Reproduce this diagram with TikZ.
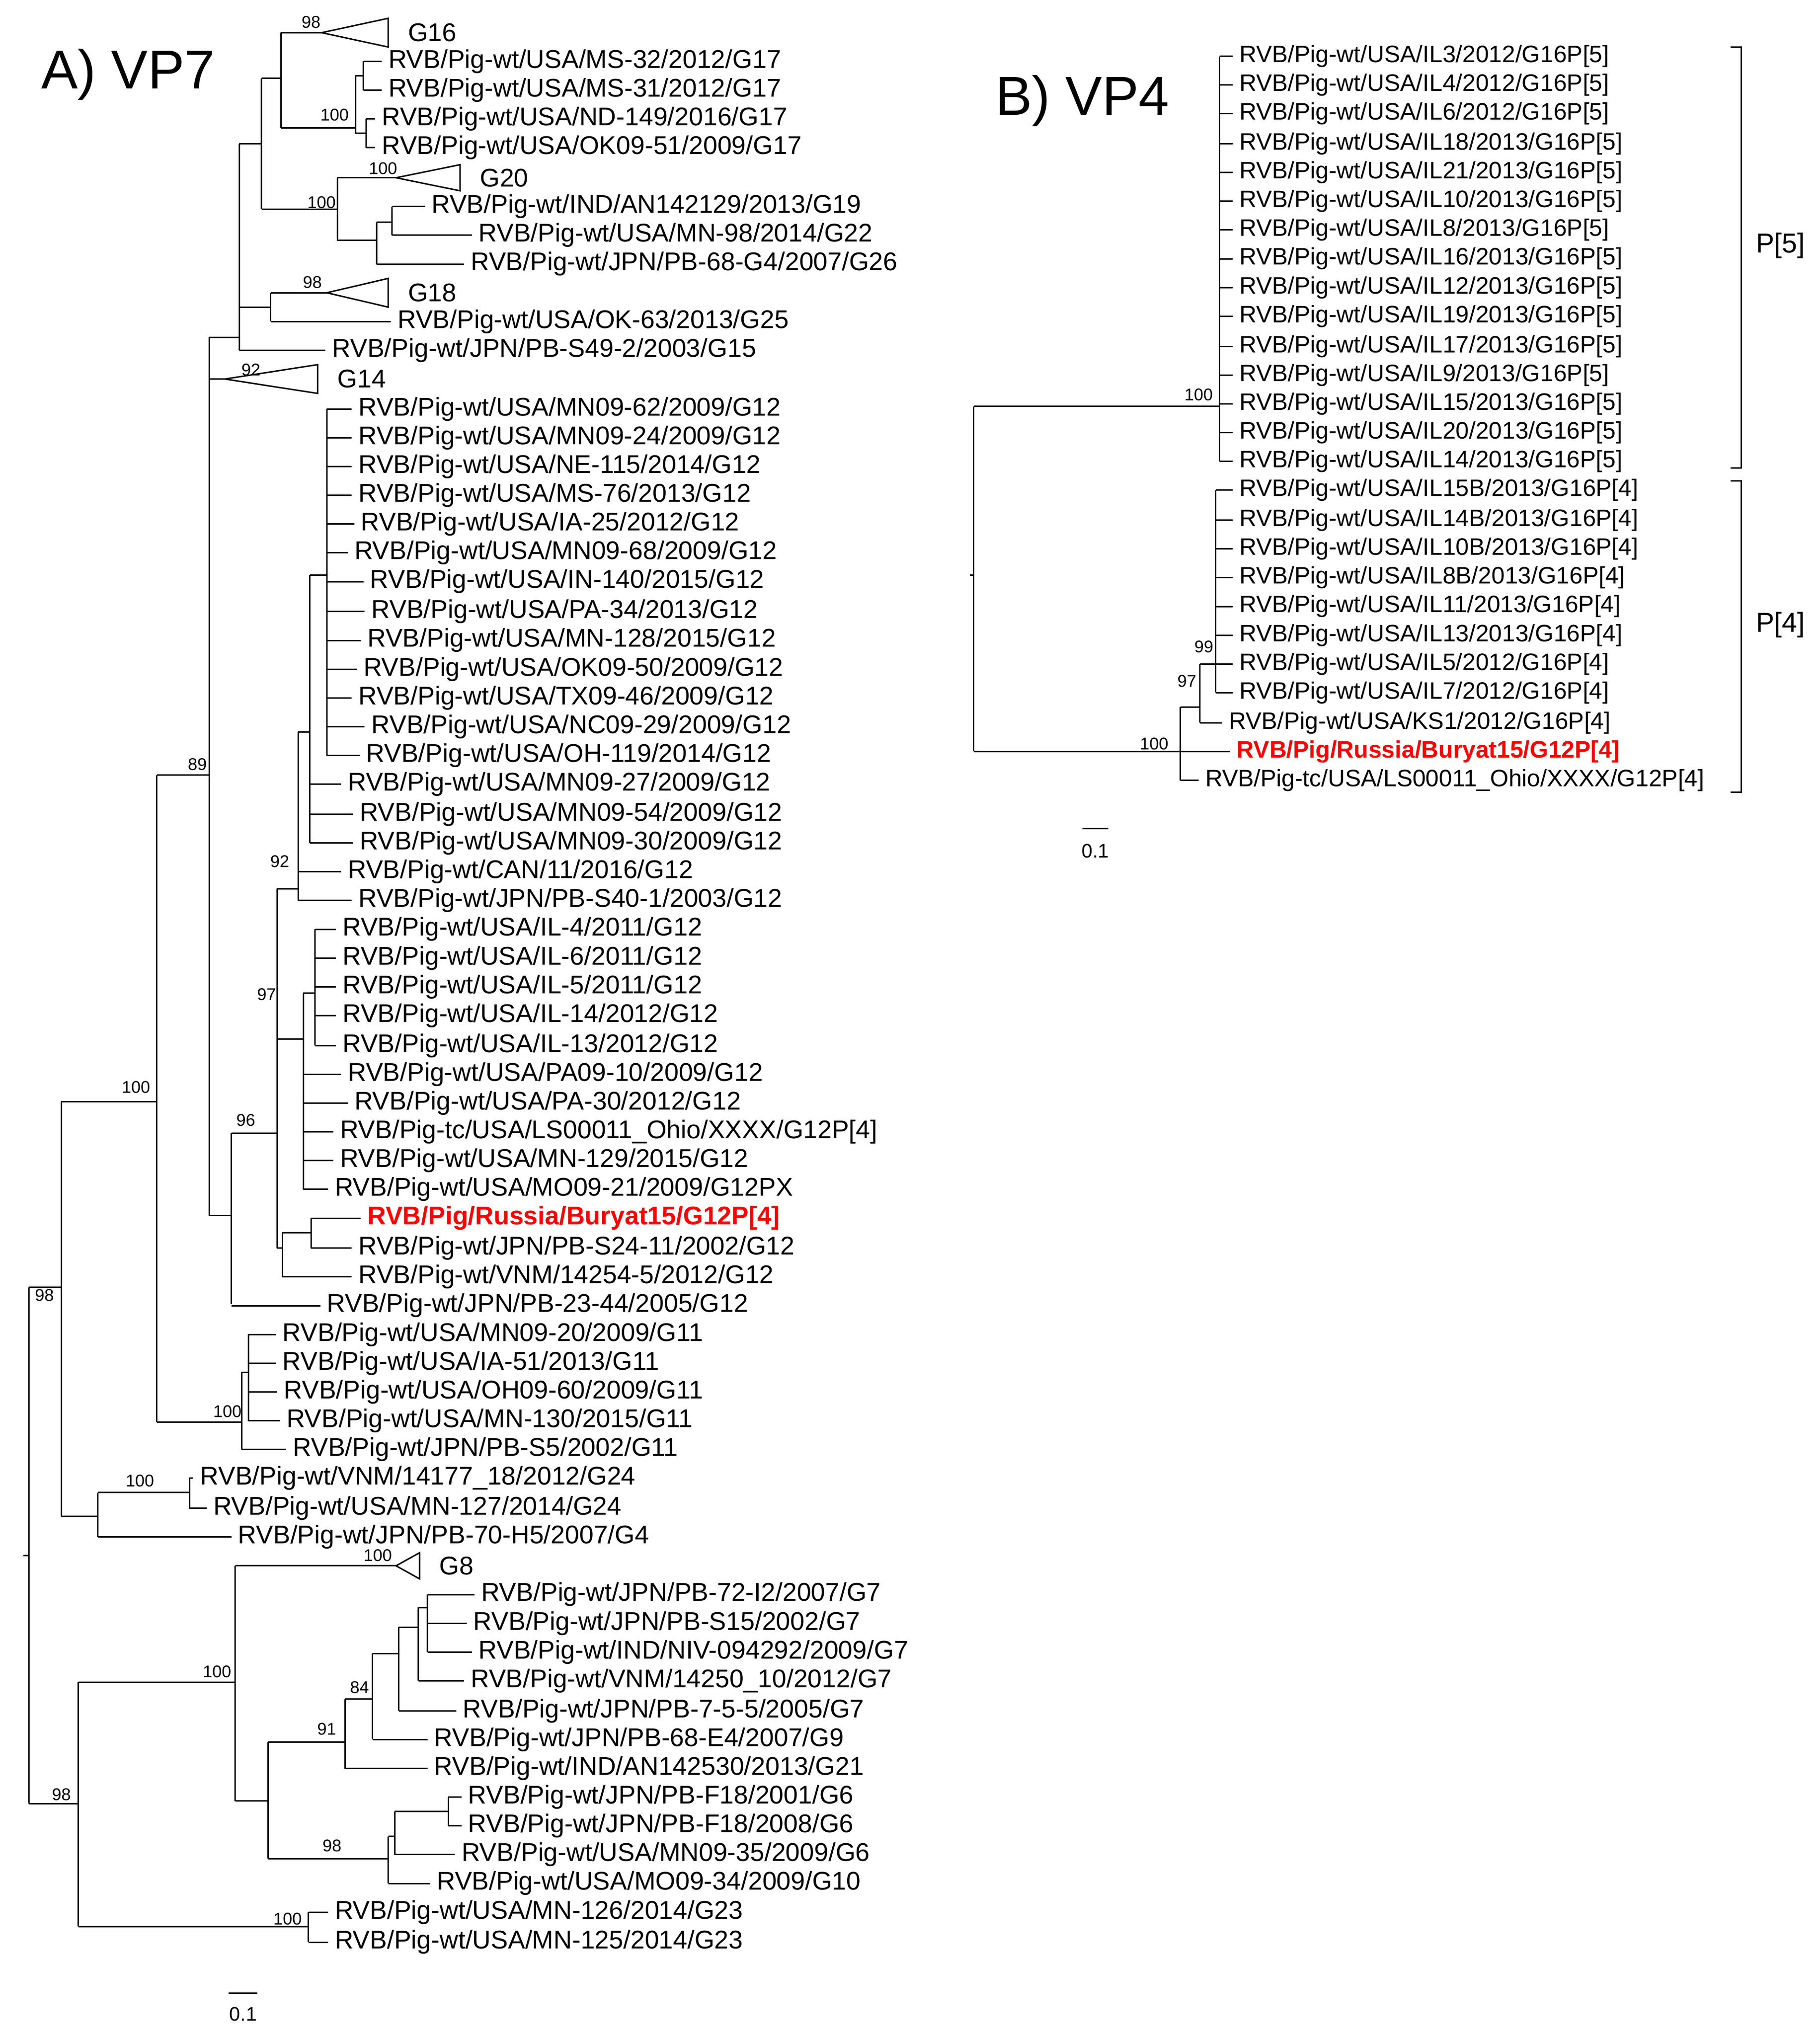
\documentclass[tikz,border=0pt]{standalone}
\usepackage{fontspec}
\setmainfont{Liberation Sans}
\newcommand\vl[3]{\draw[br] (#1,#2) -- (#1,#3);}
\newcommand\hl[3]{\draw[br] (#1,#3) -- (#2,#3);}
\newcommand\tp[4]{\draw[br] (#1,#2) -- (#3,#2); \node[lab] at (#3+5,#2) {#4};}
\newcommand\bsl[3]{\node[bs] at (#1,#2) {#3};}
\newcommand\tri[5]{\draw[br] (#1,#2) -- (#3,#2-#4) -- (#3,#2+#4) -- cycle; \node[lab] at (#3+15,#2) {#5};}
\begin{document}
\begin{tikzpicture}[x=1pt,y=-1pt,
 br/.style={line width=1.1pt},
 lab/.style={anchor=west,inner sep=0pt,font=\fontsize{19.6}{20}\selectfont},
 bs/.style={inner sep=0pt,font=\fontsize{13}{14}\selectfont},
 red/.style={text=red,font=\fontsize{19.6}{20}\selectfont\bfseries}]
\useasboundingbox (0,0) rectangle (1392,1557);
\node[anchor=west,font=\fontsize{42}{44}\selectfont] at (28,57) {A) VP7};
\node[anchor=west,font=\fontsize{42}{44}\selectfont] at (758,77) {B) VP4};
% ---------- VP7 ----------
\vl{22}{985}{1380} \hl{18}{22}{1190}
\hl{22}{47}{985} \bsl{34}{991}{98}
\vl{47}{843}{1160}
\hl{47}{120}{843} \bsl{104}{832}{100}
\vl{120}{593}{1088}
\hl{120}{160}{593} \bsl{151}{585}{89}
\vl{160}{258}{930}
\hl{160}{183}{258}
\hl{160}{172}{290} \tri{172}{290}{243}{11}{G14} \bsl{192}{283}{92}
\vl{183}{110}{268}
\hl{183}{200}{110}
\tp{183}{268}{249}{RVB/Pig-wt/JPN/PB-S49-2/2003/G15}
\hl{183}{207}{235} \vl{207}{224}{246}
\hl{207}{250}{224} \tri{250}{224}{297}{11}{G18} \bsl{239}{216}{98}
\tp{207}{246}{299}{RVB/Pig-wt/USA/OK-63/2013/G25}
\vl{200}{60}{160}
\hl{200}{215}{60} \vl{215}{25}{98}
\hl{215}{246}{25} \tri{246}{25}{297}{11}{G16} \bsl{238}{17}{98}
\hl{215}{272}{98} \bsl{256}{88}{100} \vl{272}{58}{102}
\hl{272}{278}{58} \vl{278}{47}{69}
\tp{278}{47}{292}{RVB/Pig-wt/USA/MS-32/2012/G17}
\tp{278}{69}{292}{RVB/Pig-wt/USA/MS-31/2012/G17}
\hl{272}{280}{102} \vl{280}{91}{113}
\tp{280}{91}{287}{RVB/Pig-wt/USA/ND-149/2016/G17}
\tp{280}{113}{287}{RVB/Pig-wt/USA/OK09-51/2009/G17}
\hl{200}{258}{160} \bsl{246}{155}{100} \vl{258}{136}{184}
\hl{258}{303}{136} \tri{303}{136}{352}{10}{G20} \bsl{293}{129}{100}
\hl{258}{288}{184} \vl{288}{170}{202}
\hl{288}{300}{170} \vl{300}{158}{180}
\tp{300}{158}{325}{RVB/Pig-wt/IND/AN142129/2013/G19}
\tp{300}{180}{361}{RVB/Pig-wt/USA/MN-98/2014/G22}
\tp{288}{202}{355}{RVB/Pig-wt/JPN/PB-68-G4/2007/G26}
% G12
\hl{160}{177}{930} \vl{177}{867}{998}
\tp{177}{999}{245}{RVB/Pig-wt/JPN/PB-23-44/2005/G12}
\hl{177}{212}{867} \bsl{188}{857}{96}
\vl{212}{680}{955} \bsl{204}{761}{97}
\hl{212}{228}{680} \bsl{214}{659}{92} \vl{228}{560}{689}
\tp{228}{667}{261}{RVB/Pig-wt/CAN/11/2016/G12}
\tp{228}{689}{269}{RVB/Pig-wt/JPN/PB-S40-1/2003/G12}
\hl{228}{237}{560} \vl{237}{440}{645}
\tp{237}{600}{261}{RVB/Pig-wt/USA/MN09-27/2009/G12}
\tp{237}{623}{270}{RVB/Pig-wt/USA/MN09-54/2009/G12}
\tp{237}{645}{270}{RVB/Pig-wt/USA/MN09-30/2009/G12}
\hl{237}{250}{440} \vl{250}{313}{578}
\tp{250}{313}{269}{RVB/Pig-wt/USA/MN09-62/2009/G12}
\tp{250}{335}{269}{RVB/Pig-wt/USA/MN09-24/2009/G12}
\tp{250}{357}{269}{RVB/Pig-wt/USA/NE-115/2014/G12}
\tp{250}{379}{269}{RVB/Pig-wt/USA/MS-76/2013/G12}
\tp{250}{401}{271}{RVB/Pig-wt/USA/IA-25/2012/G12}
\tp{250}{423}{266}{RVB/Pig-wt/USA/MN09-68/2009/G12}
\tp{250}{445}{278}{RVB/Pig-wt/USA/IN-140/2015/G12}
\tp{250}{468}{279}{RVB/Pig-wt/USA/PA-34/2013/G12}
\tp{250}{490}{276}{RVB/Pig-wt/USA/MN-128/2015/G12}
\tp{250}{512}{273}{RVB/Pig-wt/USA/OK09-50/2009/G12}
\tp{250}{534}{269}{RVB/Pig-wt/USA/TX09-46/2009/G12}
\tp{250}{556}{279}{RVB/Pig-wt/USA/NC09-29/2009/G12}
\tp{250}{578}{275}{RVB/Pig-wt/USA/OH-119/2014/G12}
\hl{212}{232}{795} \vl{232}{760}{910}
\hl{232}{241}{760} \vl{241}{711}{800}
\tp{241}{711}{257}{RVB/Pig-wt/USA/IL-4/2011/G12}
\tp{241}{733}{257}{RVB/Pig-wt/USA/IL-6/2011/G12}
\tp{241}{755}{257}{RVB/Pig-wt/USA/IL-5/2011/G12}
\tp{241}{777}{257}{RVB/Pig-wt/USA/IL-14/2012/G12}
\tp{241}{800}{257}{RVB/Pig-wt/USA/IL-13/2012/G12}
\tp{232}{822}{261}{RVB/Pig-wt/USA/PA09-10/2009/G12}
\tp{232}{844}{266}{RVB/Pig-wt/USA/PA-30/2012/G12}
\tp{232}{866}{255}{RVB/Pig-tc/USA/LS00011\_Ohio/XXXX/G12P[4]}
\tp{232}{888}{255}{RVB/Pig-wt/USA/MN-129/2015/G12}
\tp{232}{910}{251}{RVB/Pig-wt/USA/MO09-21/2009/G12PX}
\hl{212}{216}{955} \vl{216}{943}{977}
\hl{216}{238}{943} \vl{238}{932}{955}
\draw[br] (238,932) -- (276,932); \node[lab,red] at (281,932) {RVB/Pig/Russia/Buryat15/G12P[4]};
\tp{238}{955}{269}{RVB/Pig-wt/JPN/PB-S24-11/2002/G12}
\tp{216}{977}{269}{RVB/Pig-wt/VNM/14254-5/2012/G12}
% G11
\hl{120}{185}{1088} \vl{185}{1050}{1109}
\tp{185}{1109}{219}{RVB/Pig-wt/JPN/PB-S5/2002/G11}
\hl{185}{190}{1050} \bsl{174}{1080}{100} \vl{190}{1021}{1087}
\tp{190}{1021}{211}{RVB/Pig-wt/USA/MN09-20/2009/G11}
\tp{190}{1043}{211}{RVB/Pig-wt/USA/IA-51/2013/G11}
\tp{190}{1065}{212}{RVB/Pig-wt/USA/OH09-60/2009/G11}
\tp{190}{1087}{214}{RVB/Pig-wt/USA/MN-130/2015/G11}
% G24
\hl{47}{75}{1160} \vl{75}{1142}{1176}
\hl{75}{145}{1142} \bsl{107}{1133}{100} \vl{145}{1131}{1154}
\tp{145}{1131}{148}{RVB/Pig-wt/VNM/14177\_18/2012/G24}
\tp{145}{1154}{158}{RVB/Pig-wt/USA/MN-127/2014/G24}
\tp{75}{1176}{177}{RVB/Pig-wt/JPN/PB-70-H5/2007/G4}
% bottom clade
\hl{22}{60}{1380} \bsl{47}{1373}{98}
\vl{60}{1287}{1474}
\hl{60}{236}{1474} \bsl{220}{1468}{100} \vl{236}{1463}{1486}
\tp{236}{1463}{251}{RVB/Pig-wt/USA/MN-126/2014/G23}
\tp{236}{1486}{251}{RVB/Pig-wt/USA/MN-125/2014/G23}
\hl{60}{180}{1287} \bsl{166}{1279}{100}
\vl{180}{1198}{1378}
\hl{180}{303}{1198} \tri{303}{1198}{321}{10}{G8} \bsl{289}{1190}{100}
\hl{180}{205}{1378} \vl{205}{1333}{1422}
\hl{205}{264}{1333} \bsl{250}{1323}{91} \vl{264}{1300}{1353}
\tp{264}{1353}{327}{RVB/Pig-wt/IND/AN142530/2013/G21}
\hl{264}{285}{1300} \bsl{275}{1291}{84} \vl{285}{1265}{1331}
\tp{285}{1331}{327}{RVB/Pig-wt/JPN/PB-68-E4/2007/G9}
\hl{285}{305}{1265} \vl{305}{1245}{1309}
\tp{305}{1309}{349}{RVB/Pig-wt/JPN/PB-7-5-5/2005/G7}
\hl{305}{320}{1245} \vl{320}{1230}{1286}
\tp{320}{1286}{355}{RVB/Pig-wt/VNM/14250\_10/2012/G7}
\hl{320}{327}{1230} \vl{327}{1220}{1264}
\tp{327}{1220}{363}{RVB/Pig-wt/JPN/PB-72-I2/2007/G7}
\tp{327}{1242}{357}{RVB/Pig-wt/JPN/PB-S15/2002/G7}
\tp{327}{1264}{361}{RVB/Pig-wt/IND/NIV-094292/2009/G7}
\hl{205}{297}{1422} \bsl{254}{1412}{98} \vl{297}{1405}{1441}
\tp{297}{1441}{329}{RVB/Pig-wt/USA/MO09-34/2009/G10}
\hl{297}{302}{1405} \vl{302}{1386}{1419}
\tp{302}{1419}{348}{RVB/Pig-wt/USA/MN09-35/2009/G6}
\hl{302}{343}{1386} \vl{343}{1375}{1397}
\tp{343}{1375}{353}{RVB/Pig-wt/JPN/PB-F18/2001/G6}
\tp{343}{1397}{353}{RVB/Pig-wt/JPN/PB-F18/2008/G6}
\draw[line width=1.1pt] (175,1525) -- (197,1525);
\node[bs,font=\fontsize{15}{16}\selectfont] at (186,1541) {0.1};
% ---------- VP4 ----------
\begin{scope}[lab/.style={anchor=west,inner sep=0pt,font=\fontsize{18.2}{20}\selectfont},
 red/.style={text=red,font=\fontsize{18.2}{20}\selectfont\bfseries}]
\vl{745}{311}{575} \hl{742}{745}{440}
\hl{745}{933}{311} \bsl{917}{302}{100} \vl{933}{43}{353}
\foreach \y/\a/\b in {43/IL3/2012,65/IL4/2012,87/IL6/2012,110/IL18/2013,132/IL21/2013,154/IL10/2013,176/IL8/2013,198/IL16/2013,220/IL12/2013,242/IL19/2013,265/IL17/2013,287/IL9/2013,309/IL15/2013,331/IL20/2013,353/IL14/2013}
 {\tp{933}{\y}{943}{RVB/Pig-wt/USA/\a/\b/G16P[5]}}
\hl{745}{903}{575} \bsl{883}{569}{100} \vl{903}{541}{597}
\hl{903}{918}{541} \bsl{908}{521}{97} \vl{918}{508}{553}
\hl{918}{930}{508} \bsl{921}{495}{99} \vl{930}{375}{530}
\foreach \y/\a/\b in {375/IL15B/2013,398/IL14B/2013,420/IL10B/2013,442/IL8B/2013,464/IL11/2013,486/IL13/2013,508/IL5/2012,530/IL7/2012}
 {\tp{930}{\y}{943}{RVB/Pig-wt/USA/\a/\b/G16P[4]}}
\tp{918}{553}{935}{RVB/Pig-wt/USA/KS1/2012/G16P[4]}
\draw[br] (903,575) -- (941,575); \node[lab,red] at (946,575) {RVB/Pig/Russia/Buryat15/G12P[4]};
\tp{903}{597}{917}{RVB/Pig-tc/USA/LS00011\_Ohio/XXXX/G12P[4]}
\end{scope}
\draw[br] (1324,36) -- (1332,36) -- (1332,358) -- (1324,358);
\draw[br] (1324,368) -- (1332,368) -- (1332,606) -- (1324,606);
\node[font=\fontsize{21}{22}\selectfont] at (1362,188) {P[5]};
\node[font=\fontsize{21}{22}\selectfont] at (1362,478) {P[4]};
\draw[line width=1.1pt] (828,634) -- (848,634);
\node[bs,font=\fontsize{15}{16}\selectfont] at (838,651) {0.1};
\end{tikzpicture}
\end{document}
